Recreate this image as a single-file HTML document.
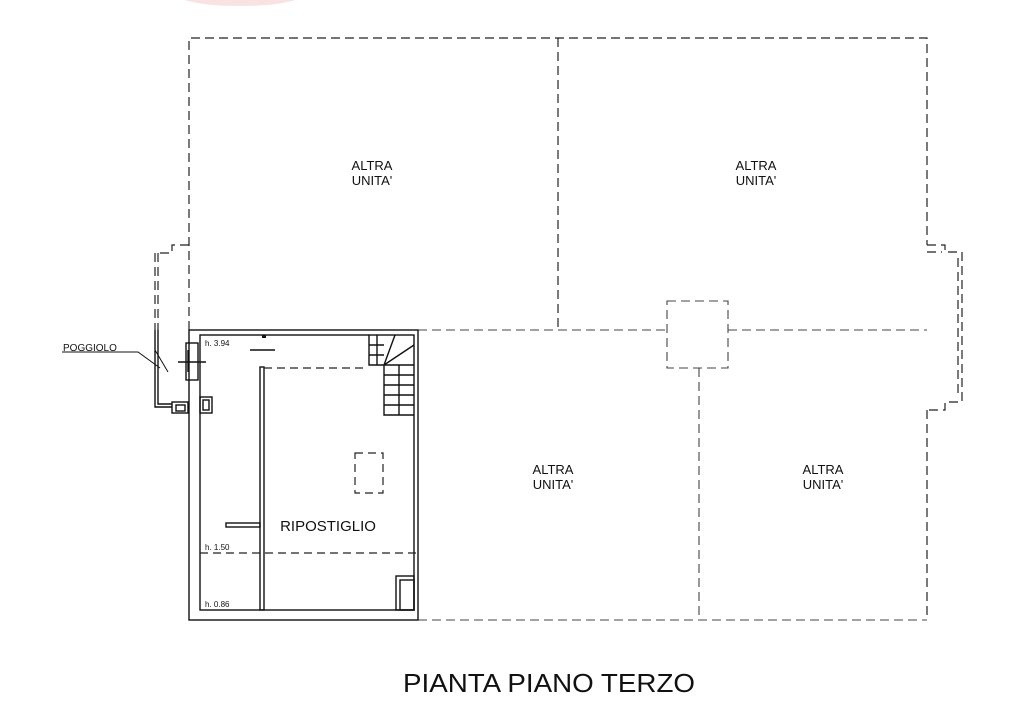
<!DOCTYPE html>
<html><head><meta charset="utf-8"><style>
html,body{margin:0;padding:0;background:#fff;width:1024px;height:702px;overflow:hidden}
svg{display:block}
text{font-family:"Liberation Sans",Arial,sans-serif;fill:#111}
</style></head><body>
<svg width="1024" height="702" viewBox="0 0 1024 702" xmlns="http://www.w3.org/2000/svg">
<ellipse cx="240" cy="-4" rx="60" ry="10" fill="#f6d6d6" opacity="0.7"/>
<g fill="none" stroke="#222" stroke-width="1.2" stroke-dasharray="9,5">
<!-- outer top -->
<path d="M189 330 V38 H927 V245"/>
<path d="M558 38 V330"/>
<!-- left bump -->
<path d="M189 245 H172 V253 H155 V330"/>
<path d="M158 253 V330"/>
<!-- right bump -->
<path d="M927 245 H945 V252 H962 V402 H945 V410 H927"/>
<path d="M927 252 H942 M958 258 V398"/>
<path d="M927 410 V620"/>
</g>
<g fill="none" stroke="#444" stroke-width="1.1" stroke-dasharray="9,5">
<path d="M418 330 H667 M728 330 H927"/>
<path d="M418 620 H927"/>
<path d="M699 368 V620"/>
<rect x="667" y="301" width="61" height="67"/>
</g>
<!-- room walls -->
<g fill="none" stroke="#111" stroke-width="1.4">
<rect x="189" y="330" width="229" height="290"/>
<rect x="200" y="335" width="214" height="275"/>
<path d="M155 330 V407 H172 M158 330 V404 H172"/>
<rect x="172" y="402" width="16" height="11"/>
<rect x="176" y="405" width="9" height="6"/>
<rect x="186" y="343" width="12" height="37"/>
<path d="M178 362 H206 M188 350 V372"/>
<rect x="200" y="397" width="12" height="16"/>
<rect x="203" y="400" width="6" height="10"/>
<rect x="260" y="367" width="4" height="243"/>
<rect x="226" y="523" width="34" height="4"/>
<path d="M250 350 H275"/>
<!-- stairs -->
<path d="M369 335 V365 H384 V415 H414"/>
<path d="M369 345 H384 M369 355 H384 M377 335 V365 M384 375 H414 M384 385 H414 M384 395 H414 M384 405 H414 M384 365 H414 M399 365 V415"/>
<path d="M384 365 L395 335 M384 365 L414 345"/>
<rect x="396" y="576" width="18" height="34"/>
<rect x="400" y="580" width="14" height="30"/>
<path d="M155 350 L168 372" stroke-width="1"/>
<path d="M62 352 H138 L160 368" stroke-width="1"/>
</g>
<rect x="262" y="335" width="4" height="3" fill="#111"/>
<g fill="none" stroke="#222" stroke-width="1.2" stroke-dasharray="8,5">
<path d="M264 368 H365"/>
<path d="M200 553 H418"/>
<rect x="355" y="453" width="28" height="40"/>
</g>
<text x="205" y="346" font-size="8">h. 3.94</text>
<text x="205" y="550" font-size="8">h. 1.50</text>
<text x="205" y="607" font-size="8">h. 0.86</text>
<text x="63" y="351" font-size="10">POGGIOLO</text>
<g font-size="13" text-anchor="middle">
<text x="372" y="170">ALTRA</text><text x="372" y="185">UNITA'</text>
<text x="756" y="170">ALTRA</text><text x="756" y="185">UNITA'</text>
<text x="553" y="474">ALTRA</text><text x="553" y="489">UNITA'</text>
<text x="823" y="474">ALTRA</text><text x="823" y="489">UNITA'</text>
</g>
<text x="328" y="531" font-size="15" text-anchor="middle">RIPOSTIGLIO</text>
<text x="403" y="692" font-size="26" textLength="292" lengthAdjust="spacingAndGlyphs">PIANTA PIANO TERZO</text>
</svg>
</body></html>
